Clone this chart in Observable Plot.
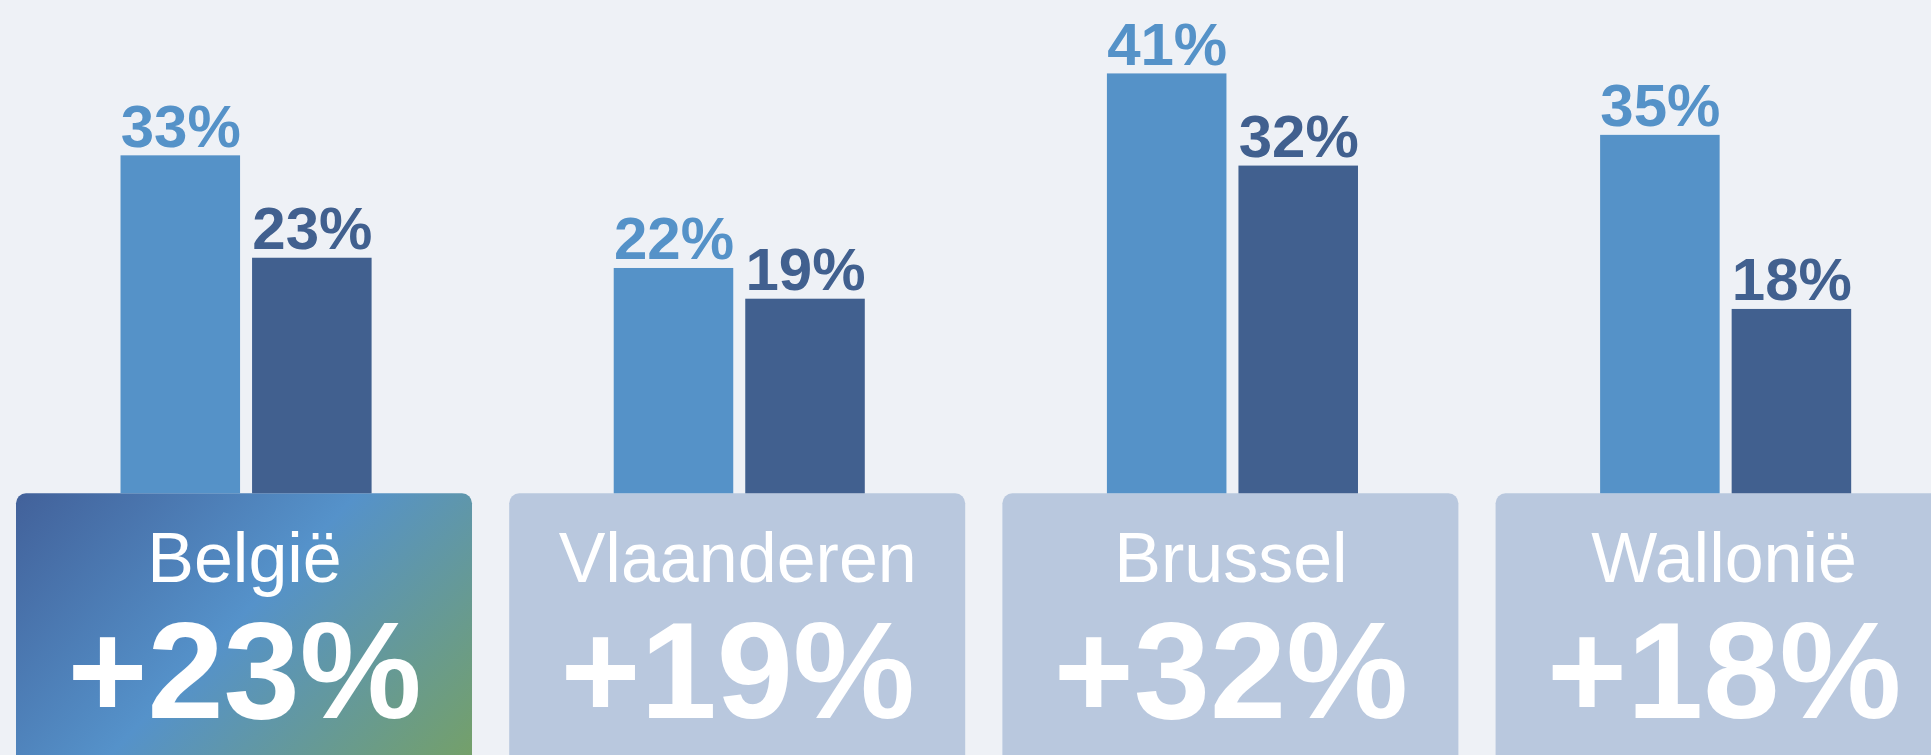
<!DOCTYPE html>
<html>
<head>
<meta charset="utf-8">
<script src="https://cdn.jsdelivr.net/npm/d3@7"></script>
<script src="https://cdn.jsdelivr.net/npm/@observablehq/plot@0.6"></script>
<style>
  html, body { margin: 0; padding: 0; overflow: hidden; background: #EEF1F6; }
  #chart svg { overflow: hidden !important; display: block; }
</style>
</head>
<body>
<div id="chart"></div>
<script>
// ---- data ----
const regions = ["België", "Vlaanderen", "Brussel", "Wallonië"];
const seriesNames = ["Reeks 1", "Reeks 2"];
const valuesFirst = [33, 22, 41, 35];
const valuesSecond = [23, 19, 32, 18];
const changeLabels = ["+23%", "+19%", "+32%", "+18%"];
const highlighted = "België";

// ---- table built from the arrays ----
const rows = regions.flatMap((region, i) => [
  {region, series: seriesNames[0], value: valuesFirst[i], change: changeLabels[i]},
  {region, series: seriesNames[1], value: valuesSecond[i], change: changeLabels[i]}
]);

const FONT = "'Liberation Sans', Arial, Helvetica, sans-serif";

const chart = Plot.plot({
  width: 1931,
  height: 755,
  marginTop: 0, marginBottom: 0, marginLeft: 0, marginRight: 0,
  style: "background:#EEF1F6;font-family:" + FONT + ";overflow:hidden;",
  facet: {data: rows, x: "region"},
  fx: {domain: regions, range: [16, 1951.6], paddingInner: 0.0754, paddingOuter: 0, round: false, axis: null, label: null},
  x: {domain: seriesNames, paddingInner: 0.0913, paddingOuter: 0.779, align: 0.51, round: false, axis: null},
  y: {domain: [-25.56, 48.17], range: [755, 0], axis: null},
  color: {domain: seriesNames, range: ["#5592C8", "#41608F"]},
  marks: [
    // region boxes
    Plot.rect(rows, {
      filter: d => d.series === seriesNames[0] && d.region !== highlighted,
      y1: -30, y2: 0, rx: 10, fill: "#B9C8DE"
    }),
    Plot.rect(rows, {
      filter: d => d.series === seriesNames[0] && d.region === highlighted,
      y1: -30, y2: 0, rx: 10, fill: "url(#highlightGrad)"
    }),
    // bars
    Plot.barY(rows, {x: "series", y: "value", fill: "series"}),
    // value labels
    Plot.text(rows, {
      x: "series", y: "value", text: d => d.value + "%",
      fill: "series", fontSize: 60, fontWeight: "bold",
      lineAnchor: "bottom", dy: -9, fontFamily: FONT
    }),
    // region names
    Plot.text(rows, {
      filter: d => d.series === seriesNames[0],
      y: 0, text: "region", fill: "white", fontSize: 70,
      lineAnchor: "bottom", dy: 88, fontFamily: FONT
    }),
    // change labels
    Plot.text(rows, {
      filter: d => d.series === seriesNames[0],
      y: 0, text: "change", fill: "white", fontSize: 137, fontWeight: "bold",
      lineAnchor: "bottom", dy: 224, fontFamily: FONT
    })
  ]
});

// gradient definition for the highlighted box
const NS = "http://www.w3.org/2000/svg";
const defs = document.createElementNS(NS, "defs");
const grad = document.createElementNS(NS, "linearGradient");
grad.setAttribute("id", "highlightGrad");
grad.setAttribute("x1", "0"); grad.setAttribute("y1", "0");
grad.setAttribute("x2", "1.097"); grad.setAttribute("y2", "0.699");
[["0", "#42619A"], ["0.486", "#5592CA"], ["1", "#74A06A"]].forEach(([o, c]) => {
  const s = document.createElementNS(NS, "stop");
  s.setAttribute("offset", o);
  s.setAttribute("stop-color", c);
  grad.appendChild(s);
});
defs.appendChild(grad);
chart.insertBefore(defs, chart.firstChild);

document.getElementById("chart").appendChild(chart);
</script>
</body>
</html>
